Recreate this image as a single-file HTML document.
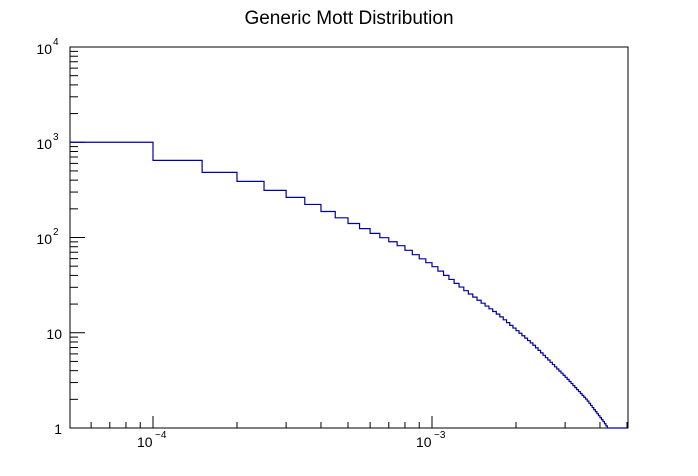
<!DOCTYPE html>
<html><head><meta charset="utf-8"><style>
html,body{margin:0;padding:0;background:#fff}
svg{display:block;font-family:"Liberation Sans",sans-serif}
</style></head><body>
<svg id="s" width="698" height="476" viewBox="0 0 698 476">
<rect x="0" y="0" width="698" height="476" fill="#fff"/>
<text x="349" y="24" font-size="19" text-anchor="middle">Generic Mott Distribution</text>
<rect x="70" y="47" width="558" height="381" fill="none" stroke="#000" stroke-width="1"/>
<g id="ticks" stroke="#000" stroke-width="1"></g>
<path id="h" fill="none" stroke="#0000a0" stroke-width="1.2"/>
<g font-size="14">
<text x="52" y="54" text-anchor="end">10</text><text x="53" y="45" font-size="10">4</text>
<text x="52" y="149" text-anchor="end">10</text><text x="53" y="140" font-size="10">3</text>
<text x="52" y="244" text-anchor="end">10</text><text x="53" y="235" font-size="10">2</text>
<text x="62" y="339" text-anchor="end">10</text>
<text x="62" y="434" text-anchor="end">1</text>
<text x="137" y="447">10</text><text x="155" y="438" font-size="10">−4</text>
<text x="416" y="447">10</text><text x="434" y="438" font-size="10">−3</text>
</g>
</svg>
<script>
var L=70,R=628,T=47,B=428;
function X(v){return 432+(Math.log10(v)+3)*279;}
function Y(lv){return B-lv*95.25;}
var t=document.getElementById('ticks'),s='';
for(var d=0;d<4;d++){for(var k=1;k<10;k++){var y=Y(d+Math.log10(k));var len=k==1?15:8;s+='<line x1="70" y1="'+y+'" x2="'+(70+len)+'" y2="'+y+'"/>';}}
var xs=[];for(var k=5;k<10;k++)xs.push(k*1e-5);for(var k=1;k<10;k++)xs.push(k*1e-4);for(var k=1;k<=5;k++)xs.push(k*1e-3);
xs.forEach(function(v){var x=X(v);if(x<L-0.5||x>R+0.5)return;var maj=(Math.abs(v-1e-4)<1e-9||Math.abs(v-1e-3)<1e-9);s+='<line x1="'+x+'" y1="428" x2="'+x+'" y2="'+(428-(maj?12:6))+'"/>';});
t.innerHTML=s;
var P=[[7.5e-5,3.0],[1.25e-4,2.81],[1.75e-4,2.684],[2.25e-4,2.589],[2.75e-4,2.495],[3.25e-4,2.421],[3.75e-4,2.347],[7.67e-4,1.922],[1.01e-3,1.708],[1.33e-3,1.438],[1.75e-3,1.182],[2.31e-3,0.877],[3.04e-3,0.526],[3.59e-3,0.298],[4.12e-3,0.07],[4.275e-3,0.0]];
function f(x){var lx=Math.log10(x);for(var i=0;i<P.length-1;i++){var a=Math.log10(P[i][0]),b=Math.log10(P[i+1][0]);if(lx<=b){return P[i][1]+(P[i+1][1]-P[i][1])*(lx-a)/(b-a);}}return P[P.length-1][1];}
var d='';
for(var n=1;n<100;n++){var lo=n*5e-5,hi=(n+1)*5e-5,c=(lo+hi)/2;var yv;
 if(n<=85){yv=Y(Math.max(0,f(c)));}else yv=B;
 if(n>1) d+=' L'+X(lo).toFixed(2)+' '+yv.toFixed(2); else d='M'+L+' '+yv.toFixed(2);
 d+=' L'+X(hi).toFixed(2)+' '+yv.toFixed(2);}
document.getElementById('h').setAttribute('d',d);
</script>
</body></html>
